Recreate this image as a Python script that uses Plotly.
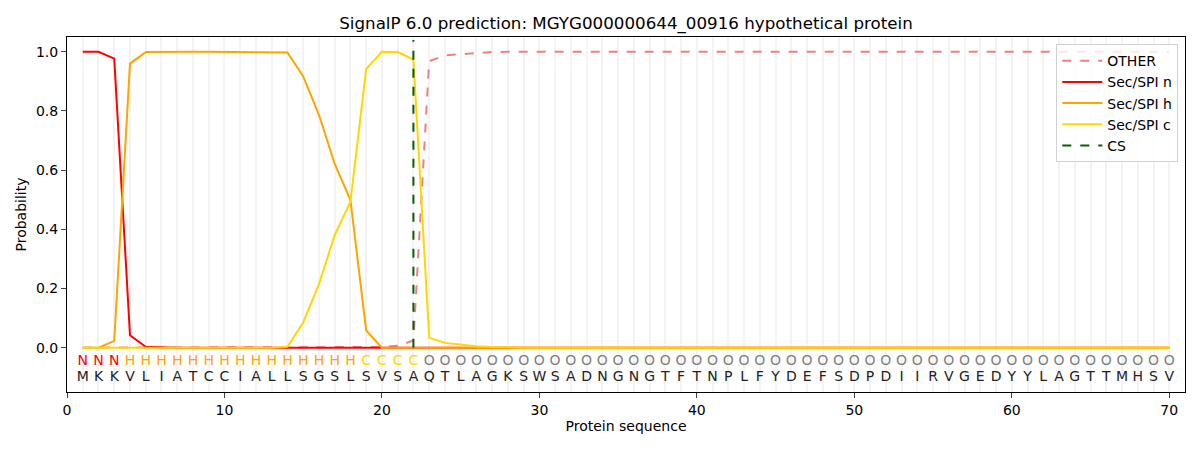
import plotly.graph_objects as go

# residues and predicted region labels
sequence = list("MKKVLIATCCIALLSGSLSVSAQTLAGKSWSADNGNGTFTNPLFYDEFSDPDIIRVGEDYYLAGTTMHSV")
regions = list("NNN" + "H" * 15 + "CCCC" + "O" * 48)
positions = list(range(1, len(sequence) + 1))

other_head = [0, 0, 0, 0, 0, 0, 0, 0, 0, 0, 0, 0, 0, 0, 0, 0, 0, 0, 0.001, 0.002,
              0.006, 0.024, 0.968, 0.988, 0.992, 0.996, 0.999, 1.0]
n_head = [1.0, 1.0, 0.977, 0.042, 0.003, 0.001, 0, 0, 0, 0, 0, 0, 0, 0, 0, 0, 0, 0, 0, 0,
          0, 0, 0, 0, 0, 0, 0, 0]
h_head = [0, 0, 0.023, 0.960, 0.999, 1.0, 1.0, 1.0, 1.0, 1.0, 1.0, 1.0, 1.0, 0.998, 0.917,
          0.787, 0.621, 0.499, 0.058, 0, 0, 0, 0, 0, 0, 0, 0, 0]
c_head = [0, 0, 0, 0, 0, 0, 0, 0, 0, 0, 0, 0, 0, 0.003, 0.085, 0.214, 0.380, 0.493, 0.942,
          1.0, 0.999, 0.974, 0.033, 0.016, 0.010, 0.005, 0.002, 0]
tail = len(sequence) - len(other_head)
prob_other = other_head + [1.0] * tail
prob_n = n_head + [0.0] * tail
prob_h = h_head + [0.0] * tail
prob_c = c_head + [0.0] * tail

cs_pos = 22

region_colors = {"N": "red", "H": "orange", "C": "gold", "O": "grey"}
font = "DejaVu Sans"

fig = go.Figure()

fig.add_trace(go.Scatter(x=positions, y=prob_other, mode="lines", name="OTHER",
                         line=dict(color="lightcoral", width=2, dash="dash")))
fig.add_trace(go.Scatter(x=positions, y=prob_n, mode="lines", name="Sec/SPI n",
                         line=dict(color="red", width=2)))
fig.add_trace(go.Scatter(x=positions, y=prob_h, mode="lines", name="Sec/SPI h",
                         line=dict(color="orange", width=2)))
fig.add_trace(go.Scatter(x=positions, y=prob_c, mode="lines", name="Sec/SPI c",
                         line=dict(color="gold", width=2)))
fig.add_trace(go.Scatter(x=[cs_pos, cs_pos], y=[0, 1.04], mode="lines", name="CS",
                         line=dict(color="darkgreen", width=2, dash="dash")))

# region letters and sequence under the curves
fig.add_trace(go.Scatter(
    x=positions, y=[-0.046] * len(positions), mode="text", text=regions,
    textfont=dict(family=font, size=14, color=[region_colors[r] for r in regions]),
    showlegend=False, hoverinfo="skip"))
fig.add_trace(go.Scatter(
    x=positions, y=[-0.1] * len(positions), mode="text", text=sequence,
    textfont=dict(family=font, size=14, color="#222222"),
    showlegend=False, hoverinfo="skip"))

# margins account for the page's 8px body offset
fig.update_layout(
    width=1200, height=450,
    margin=dict(l=59, r=23, t=29, b=66, autoexpand=False),
    paper_bgcolor="white", plot_bgcolor="white",
    font=dict(family=font, size=14, color="black"),
    title=dict(text="SignalP 6.0 prediction: MGYG000000644_00916 hypothetical protein",
               x=0.5, xref="paper", xanchor="center",
               y=0.967, yanchor="middle",
               font=dict(size=16.7, color="black")),
    legend=dict(x=0.994, y=0.98, xanchor="right", yanchor="top",
                bgcolor="rgba(255,255,255,0.8)", bordercolor="#d0d0d0", borderwidth=1,
                font=dict(size=14), tracegroupgap=0, itemwidth=40),
    showlegend=True,
)
fig.update_xaxes(
    range=[0, 71], tickvals=[0, 10, 20, 30, 40, 50, 60, 70],
    ticks="outside", ticklen=5, showline=True, linecolor="black", mirror=True,
    showgrid=False, zeroline=False, automargin=False,
    minor=dict(dtick=1, tick0=0, showgrid=True, gridcolor="#f3f3f3", gridwidth=2, ticks=""),
    title=dict(text="Protein sequence", font=dict(size=14), standoff=4),
)
fig.update_yaxes(
    range=[-0.15, 1.05], tickvals=[0, 0.2, 0.4, 0.6, 0.8, 1.0], tickformat=".1f",
    ticks="outside", ticklen=5, showline=True, linecolor="black", mirror=True,
    showgrid=False, zeroline=False, automargin=False,
    title=dict(text="Probability", font=dict(size=14), standoff=6),
)

fig.write_html("out.html")
